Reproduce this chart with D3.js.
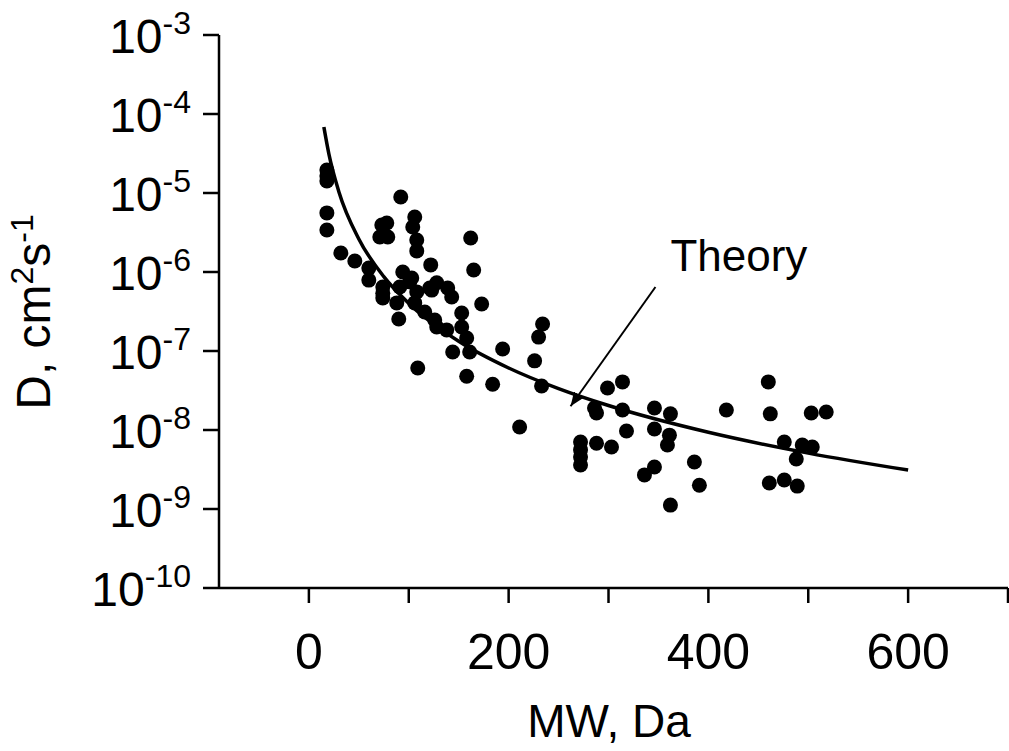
<!DOCTYPE html>
<html>
<head>
<meta charset="utf-8">
<script src="https://cdn.jsdelivr.net/npm/d3@7"></script>
<style>
  body { margin: 0; background: #fff; }
  text { font-family: Arial, "Liberation Sans", sans-serif; fill: #000; }
</style>
</head>
<body>
<svg id="chart"></svg>
<script>
// measured points (MW in Da, D in cm2/s)
var mw = [18, 18, 18, 18, 18, 32, 46, 60, 60, 73, 78, 71, 79, 92, 106, 104, 108, 108, 122, 94,
  103, 74, 74, 74, 91, 101, 108, 88, 90, 106, 116, 126, 128, 123, 128, 109, 121, 139, 143, 162,
  165, 173, 138, 153, 153, 158, 161, 144, 194, 234, 230, 226, 158, 184, 233, 211, 314, 299, 286, 288,
  314, 346, 362, 318, 346, 361, 359, 272, 272, 272, 272, 288, 303, 346, 336, 386, 391, 362, 460, 418,
  462, 503, 518, 476, 494, 504, 488, 461, 476, 489];
var diff = [1.95e-5, 1.64e-5, 1.42e-5, 5.6e-6, 3.4e-6, 1.74e-6, 1.38e-6, 1.12e-6, 7.9e-7, 3.94e-6,
  4.17e-6, 2.77e-6, 2.77e-6, 8.9e-6, 4.97e-6, 3.71e-6, 2.54e-6, 1.85e-6, 1.23e-6, 1.0e-6,
  8.4e-7, 6.46e-7, 5.4e-7, 4.7e-7, 6.46e-7, 7.5e-7, 5.6e-7, 4.06e-7, 2.54e-7, 4.06e-7,
  3.12e-7, 2.47e-7, 2.01e-7, 5.9e-7, 7.3e-7, 6.1e-8, 6.27e-7, 6.27e-7, 4.83e-7, 2.69e-6,
  1.06e-6, 3.94e-7, 1.85e-7, 3.03e-7, 2.01e-7, 1.46e-7, 9.7e-8, 9.7e-8, 1.06e-7, 2.2e-7,
  1.5e-7, 7.5e-8, 4.8e-8, 3.8e-8, 3.6e-8, 1.09e-8, 4.06e-8, 3.4e-8, 1.9e-8, 1.64e-8,
  1.79e-8, 1.9e-8, 1.6e-8, 9.7e-9, 1.03e-8, 8.6e-9, 6.46e-9, 7.05e-9, 5.6e-9, 4.55e-9,
  3.6e-9, 6.8e-9, 6.1e-9, 3.4e-9, 2.7e-9, 3.94e-9, 2.0e-9, 1.12e-9, 4.06e-8, 1.79e-8,
  1.6e-8, 1.64e-8, 1.69e-8, 7.05e-9, 6.46e-9, 6.1e-9, 4.3e-9, 2.13e-9, 2.33e-9, 1.95e-9];

// theory curve
var theoryMw = [15, 20, 30, 50, 75, 100, 150, 200, 250, 300, 400, 500, 600];
var theoryD = [6.84e-5, 3.13e-5, 1.04e-5, 2.62e-6, 8.73e-7, 4.0e-7, 1.33e-7, 6.1e-8, 3.34e-8, 2.04e-8, 9.35e-9, 5.1e-9, 3.11e-9];

var xTicks = [0, 100, 200, 300, 400, 500, 600, 700];
var xLabels = [0, 200, 400, 600];
var yExps = [-3, -4, -5, -6, -7, -8, -9, -10];

var width = 1009, height = 751;
var svg = d3.select("#chart").attr("width", width).attr("height", height);

var x = d3.scaleLinear().domain([-90, 700]).range([219, 1008]);
var y = d3.scaleLog().domain([1e-10, 1e-3]).range([588, 35]);

var fs = 48, sup = 32;

// y axis
svg.append("line").attr("x1", x(-90)).attr("x2", x(-90)).attr("y1", y(1e-3)).attr("y2", y(1e-10))
  .attr("stroke", "#000").attr("stroke-width", 2.5);
svg.selectAll(".ytick").data(yExps).enter().append("line")
  .attr("x1", x(-90) - 16).attr("x2", x(-90))
  .attr("y1", function (d) { return y(Math.pow(10, d)); })
  .attr("y2", function (d) { return y(Math.pow(10, d)); })
  .attr("stroke", "#000").attr("stroke-width", 2.5);
var yl = svg.selectAll(".ylab").data(yExps).enter().append("text")
  .attr("x", 191)
  .attr("y", function (d) { return y(Math.pow(10, d)) + 18; })
  .attr("text-anchor", "end")
  .style("font-size", fs + "px");
yl.append("tspan").text("10");
yl.append("tspan").attr("dy", -19).style("font-size", sup + "px").text(function (d) { return "-" + Math.abs(d); });

// x axis
svg.append("line").attr("x1", x(-90)).attr("x2", x(700)).attr("y1", y(1e-10)).attr("y2", y(1e-10))
  .attr("stroke", "#000").attr("stroke-width", 2.5);
svg.selectAll(".xtick").data(xTicks).enter().append("line")
  .attr("x1", function (d) { return x(d); }).attr("x2", function (d) { return x(d); })
  .attr("y1", y(1e-10)).attr("y2", y(1e-10) + 15)
  .attr("stroke", "#000").attr("stroke-width", 2.5);
svg.selectAll(".xlab").data(xLabels).enter().append("text")
  .attr("x", function (d) { return x(d); })
  .attr("y", 669)
  .attr("text-anchor", "middle")
  .style("font-size", "50px")
  .text(function (d) { return d; });

// axis titles
svg.append("text").attr("x", 609).attr("y", 737).attr("text-anchor", "middle")
  .style("font-size", "46px").text("MW, Da");
var yt = svg.append("text").attr("transform", "translate(50,312) rotate(-90)")
  .attr("text-anchor", "middle").style("font-size", fs + "px");
yt.append("tspan").text("D, cm");
yt.append("tspan").attr("dy", -17).style("font-size", sup + "px").text("2");
yt.append("tspan").attr("dy", 17).text("s");
yt.append("tspan").attr("dy", -17).style("font-size", sup + "px").text("-1");

// points
svg.append("g").selectAll("circle").data(mw).enter().append("circle")
  .attr("cx", function (d) { return x(d); })
  .attr("cy", function (d, i) { return y(diff[i]); })
  .attr("r", 7.5)
  .attr("fill", "#000");

// theory curve
var line = d3.line()
  .x(function (d) { return x(d); })
  .y(function (d, i) { return y(theoryD[i]); })
  .curve(d3.curveMonotoneX);
svg.append("path").datum(theoryMw).attr("d", line)
  .attr("fill", "none").attr("stroke", "#000").attr("stroke-width", 3.5);

// annotation
svg.append("defs").append("marker").attr("id", "arr")
  .attr("viewBox", "0 0 10 10").attr("refX", 10).attr("refY", 5)
  .attr("markerWidth", 7).attr("markerHeight", 7).attr("orient", "auto")
  .append("path").attr("d", "M0,1 L10,5 L0,9 Z").attr("fill", "#000");
svg.append("line")
  .attr("x1", x(347)).attr("y1", y(6.46e-7))
  .attr("x2", x(262)).attr("y2", y(2.0e-8))
  .attr("stroke", "#000").attr("stroke-width", 2)
  .attr("marker-end", "url(#arr)");
svg.append("text").attr("x", x(362)).attr("y", y(1e-6) - 1)
  .style("font-size", "44px").text("Theory");
</script>
</body>
</html>
